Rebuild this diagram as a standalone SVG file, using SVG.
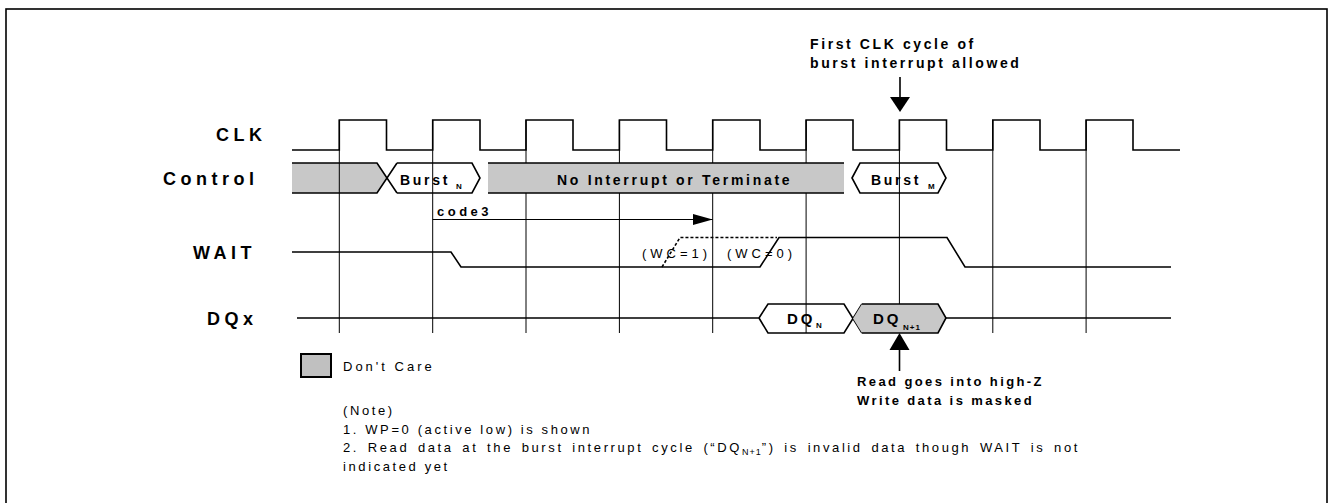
<svg xmlns="http://www.w3.org/2000/svg" width="1329" height="503" viewBox="0 0 1329 503">
<style>
  text { font-family: "Liberation Sans", Arial, Helvetica, sans-serif; fill: #000; }
  .lbl { font-size: 18px; font-weight: bold; letter-spacing: 4.5px; }
  .b14 { font-size: 14px; font-weight: bold; letter-spacing: 2.7px; }
  .b13 { font-size: 13px; font-weight: bold; letter-spacing: 2.4px; }
  .n13 { font-size: 13px; letter-spacing: 2.6px; }
  .sub { font-size: 8px; font-weight: bold; letter-spacing: 1px; }
  .subn { font-size: 9px; letter-spacing: 1px; }
  .wave { fill: none; stroke: #000; stroke-width: 1.6; }
  .grid { fill: none; stroke: #000; stroke-width: 1; }
  .grey { fill: #c8c8c8; }
  .edge { fill: none; stroke: #000; stroke-width: 1.6; }
</style>
<defs>
  <marker id="ah" markerWidth="20" markerHeight="11" refX="20" refY="5.5" orient="auto" markerUnits="userSpaceOnUse">
    <path d="M0,0 L20,5.5 L0,11 Z" fill="#000"/>
  </marker>
</defs>

<rect id="frame" x="6" y="9" width="1321" height="510" fill="#fff" stroke="#000" stroke-width="1.6"/>

<g id="labels">
  <text class="lbl" x="216" y="141">CLK</text>
  <text class="lbl" x="163" y="185">Control</text>
  <text class="lbl" x="193" y="259">WAIT</text>
  <text class="lbl" x="207" y="325">DQx</text>
</g>

<g id="ctrl-dontcare-left">
  <path class="grey" d="M292,163 H377 L387,178 L377,193 H292 Z"/>
  <path class="edge" d="M292,163 H377 L397,193"/>
  <path class="edge" d="M292,193 H377 L397,163"/>
</g>

<g id="ctrl-burstN">
  <path class="edge" d="M397,163 H472 L480,178 L472,193 H397"/>
  <text class="b14" x="400" y="184.5">Burst</text>
  <text class="sub" x="456" y="188.5">N</text>
</g>

<g id="ctrl-burstM">
  <path class="edge" d="M852,178 L860,163 H938 L946,178 L938,193 H860 Z"/>
  <text class="b14" x="871" y="184.5">Burst</text>
  <text class="sub" x="928" y="188.5">M</text>
</g>

<g id="dq-N">
  <path class="edge" d="M759,318 L768,304 H844 L862,333"/>
  <path class="edge" d="M759,318 L768,333 H844 L862,304"/>
</g>

<g id="grid">
  <path class="grid" d="M339.3,120 V333 M432.7,120 V333 M526,120 V333 M619.4,120 V333 M712.7,120 V333 M806.1,120 V333 M899.4,120 V333 M992.8,120 V333 M1086.1,120 V333"/>
</g>

<g id="clk">
  <path class="wave" d="M292,150 H339.3 V120 H386.5 V150 H432.7 V120 H480 V150 H526 V120 H573 V150 H619.4 V120 H666.5 V150 H712.7 V120 H760 V150 H806.1 V120 H853 V150 H899.4 V120 H946.5 V150 H992.8 V120 H1040 V150 H1086.1 V120 H1133 V150 H1180"/>
</g>

<g id="ctrl-nointerrupt">
  <rect class="grey" x="488" y="163" width="356" height="30"/>
  <path class="edge" d="M488,163 H844 M488,193 H844"/>
  <text class="b14" x="557" y="184.5">No Interrupt or Terminate</text>
</g>

<g id="dq-N1">
  <path class="grey" d="M853,318.5 L862,304 H938 L946,318 L938,333 H862 Z"/>
  <path class="edge" d="M862,304 H938 L946,318 L938,333 H862"/>
</g>

<g id="dq-line">
  <path class="wave" d="M297,318 H759 M946,318 H1171"/>
  <text class="b14" x="787" y="323.5" style="font-size:15px;letter-spacing:3px">DQ</text>
  <text class="sub" x="816" y="327.5">N</text>
  <text class="b14" x="873" y="323.5" style="font-size:15px;letter-spacing:3px">DQ</text>
  <text class="sub" x="903" y="330">N+1</text>
</g>

<g id="wait">
  <path class="wave" d="M292,252 H451 L461,267 H760 L779,237.5 H947 L965,267 H1171"/>
  <path class="wave" d="M662,267 L680,237.5 H777" stroke-dasharray="3,2" stroke-width="2.2"/>
  <text class="n13" x="642" y="258" style="letter-spacing:4px">(WC=1)</text>
  <text class="n13" x="727" y="258" style="letter-spacing:4px">(WC=0)</text>
</g>

<g id="connectors">
  <line x1="432.7" y1="219.5" x2="712.7" y2="219.5" stroke="#000" stroke-width="1.2" marker-end="url(#ah)"/>
  <path d="M900,77 V98" stroke="#000" stroke-width="1.6"/>
  <path d="M890,97 H910 L900,112 Z" fill="#000"/>
  <path d="M899.5,350 V371" stroke="#000" stroke-width="1.6"/>
  <path d="M889.5,350 H909.5 L899.5,333 Z" fill="#000"/>
</g>

<g id="annotations">
  <text class="b13" x="437" y="216" style="letter-spacing:3.5px">code3</text>
  <text class="b13" x="810" y="49" style="font-size:14px;letter-spacing:2.6px">First CLK cycle of</text>
  <text class="b13" x="810" y="68" style="font-size:14px;letter-spacing:2.6px">burst interrupt allowed</text>
  <text class="b13" x="857" y="386">Read goes into high-Z</text>
  <text class="b13" x="857" y="405">Write data is masked</text>
</g>

<g id="legend">
  <rect x="301" y="354" width="30" height="23" fill="#c0c0c0" stroke="#000" stroke-width="2"/>
  <text class="n13" x="343" y="371" style="letter-spacing:3px">Don't Care</text>
</g>

<g id="notes">
  <text class="n13" x="343" y="415">(Note)</text>
  <text class="n13" x="343" y="433.5">1. WP=0 (active low) is shown</text>
  <text class="n13" x="343" y="452" style="word-spacing:2.5px">2. Read data at the burst interrupt cycle (“DQ<tspan class="subn" dy="3">N+1</tspan><tspan dy="-3">”) is invalid data though WAIT is not</tspan></text>
  <text class="n13" x="343" y="470.5">indicated yet</text>
</g>
</svg>
